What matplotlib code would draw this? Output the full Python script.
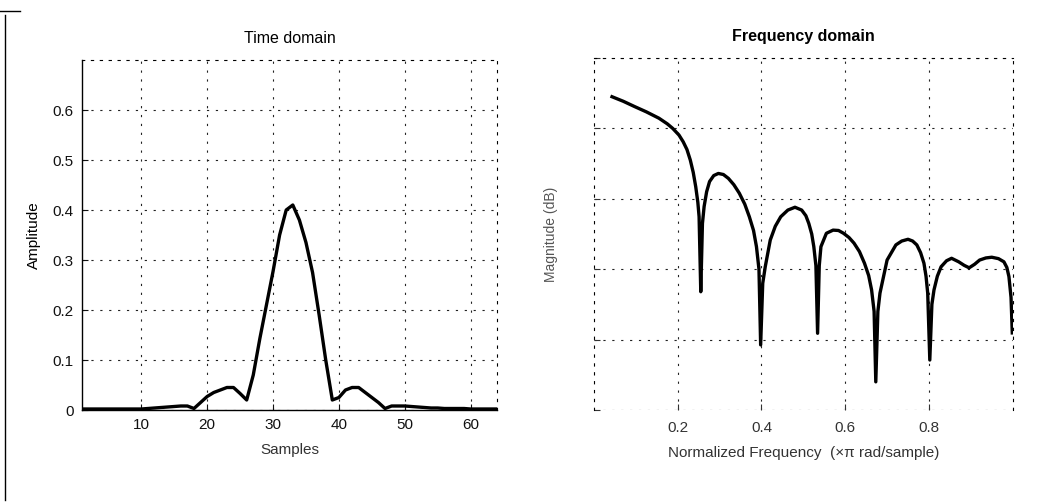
import matplotlib
matplotlib.use("Agg")
import matplotlib.pyplot as plt
from matplotlib.lines import Line2D
import numpy as np

plt.rcParams['font.family'] = ['Liberation Sans', 'DejaVu Sans']

# ---- Time domain data (sample index 1..64) ----
samples = list(range(1, 65))
amplitude = [0.002, 0.002, 0.002, 0.002, 0.002, 0.002, 0.002, 0.002, 0.002, 0.002,
             0.003, 0.004, 0.005, 0.006, 0.007, 0.008, 0.008, 0.003, 0.015, 0.027,
             0.035, 0.040, 0.045, 0.045, 0.033, 0.020, 0.070, 0.143, 0.210, 0.277,
             0.350, 0.400, 0.410, 0.380, 0.335, 0.275, 0.190, 0.100, 0.020, 0.025,
             0.040, 0.045, 0.045, 0.035, 0.025, 0.015, 0.003, 0.008, 0.008, 0.008,
             0.007, 0.006, 0.005, 0.004, 0.004, 0.003, 0.003, 0.003, 0.003, 0.002,
             0.002, 0.002, 0.002, 0.002]
time_xticks = [10, 20, 30, 40, 50, 60]
time_yticks = [0, 0.1, 0.2, 0.3, 0.4, 0.5, 0.6]
time_yticklabels = ['0', '0.1', '0.2', '0.3', '0.4', '0.5', '0.6']

# ---- Frequency domain data ----
freq = [0.043, 0.070, 0.097, 0.125, 0.155, 0.175, 0.188, 0.203, 0.213, 0.222,
        0.230, 0.237, 0.243, 0.248, 0.251, 0.255, 0.259, 0.263, 0.269, 0.276,
        0.286, 0.297, 0.309, 0.321, 0.334, 0.347, 0.360, 0.371, 0.381, 0.388,
        0.394, 0.398, 0.403, 0.409, 0.421, 0.433, 0.446, 0.463, 0.480, 0.496,
        0.506, 0.513, 0.520, 0.525, 0.530, 0.534, 0.538, 0.542, 0.555, 0.571,
        0.584, 0.596, 0.609, 0.621, 0.634, 0.646, 0.656, 0.663, 0.669, 0.673,
        0.678, 0.683, 0.700, 0.721, 0.735, 0.750, 0.761, 0.771, 0.780, 0.788,
        0.793, 0.797, 0.802, 0.807, 0.812, 0.820, 0.829, 0.842, 0.854, 0.871,
        0.884, 0.896, 0.909, 0.921, 0.936, 0.950, 0.966, 0.979, 0.986, 0.991,
        0.996, 0.999]
mag_db = [9.0, 7.7, 6.2, 4.7, 2.9, 1.3, 0.0, -1.9, -3.8, -6.0,
          -9.0, -12.5, -16.6, -21.0, -25.1, -46.4, -27.0, -22.2, -18.0, -15.1,
          -13.4, -12.8, -13.1, -14.2, -16.0, -18.4, -21.5, -25.1, -29.0, -33.6,
          -40.0, -61.5, -44.0, -39.3, -31.7, -27.8, -25.1, -23.2, -22.4, -23.2,
          -24.8, -27.0, -30.0, -33.6, -39.0, -58.2, -39.0, -33.6, -29.8, -28.9,
          -29.0, -29.8, -31.0, -32.6, -35.0, -38.3, -41.8, -45.9, -52.0, -72.0,
          -52.0, -46.8, -37.4, -33.1, -32.0, -31.5, -32.0, -33.1, -35.3, -38.3,
          -42.0, -46.8, -65.8, -50.0, -45.9, -42.0, -39.3, -37.6, -36.9, -37.9,
          -38.9, -39.6, -38.6, -37.4, -36.8, -36.6, -37.0, -37.9, -39.5, -42.1,
          -48.0, -58.1]
freq_xticks = [0.2, 0.4, 0.6, 0.8]
freq_xticklabels = ['0.2', '0.4', '0.6', '0.8']
freq_yticks = [-80, -60, -40, -20, 0, 20]

W, H = 1064, 503
fig = plt.figure(figsize=(W / 100, H / 100), dpi=100)

def ax_rect(x0, y0, x1, y1):
    return [x0 / W, 1 - y1 / H, (x1 - x0) / W, (y1 - y0) / H]

grid_kw = dict(color='#222222', linestyle=(0, (2, 6)), linewidth=0.8)

# ---- Left: Time domain ----
ax1 = fig.add_axes(ax_rect(82, 60, 497, 410))
ax1.plot(samples, amplitude, color='black', linewidth=2.4)
ax1.set_xlim(1, 64)
ax1.set_ylim(0, 0.7)
ax1.set_xticks(time_xticks)
ax1.set_yticks(time_yticks)
ax1.set_yticklabels(time_yticklabels)
ax1.grid(True, **grid_kw)
ax1.set_title('Time domain', fontsize=11.5, pad=12)
ax1.set_xlabel('Samples', fontsize=11, labelpad=8, color='#333333')
ax1.set_ylabel('Amplitude', fontsize=11, labelpad=8)
ax1.tick_params(direction='in', length=4, labelsize=11, pad=6, colors='#111111')
for side in ['top', 'right']:
    ax1.spines[side].set_linestyle((0, (2, 6)))
    ax1.spines[side].set_linewidth(0.8)
ax1.spines['left'].set_linewidth(1.0)
ax1.spines['bottom'].set_linewidth(1.0)

# ---- Right: Frequency domain ----
ax2 = fig.add_axes(ax_rect(594, 58, 1012.7, 410))
ax2.plot(freq, mag_db, color='black', linewidth=2.4)
ax2.set_xlim(0, 1)
ax2.set_ylim(-80, 20)
ax2.set_xticks(freq_xticks)
ax2.set_xticklabels(freq_xticklabels)
ax2.set_yticks(freq_yticks)
ax2.set_yticklabels([''] * len(freq_yticks))
ax2.grid(True, **grid_kw)
ax2.set_title('Frequency domain', fontsize=11.5, pad=12, fontweight='bold')
ax2.set_xlabel('Normalized Frequency  (\u00d7\u03c0 rad/sample)', fontsize=11,
               labelpad=8, color='#333333')
ax2.set_ylabel('Magnitude (dB)', fontsize=10, labelpad=18, color='#555555')
ax2.tick_params(direction='in', length=4, labelsize=11, pad=8, colors='#333333')
for side in ['top', 'right', 'left', 'bottom']:
    ax2.spines[side].set_linestyle((0, (2, 6)))
    ax2.spines[side].set_linewidth(0.8)
ax2.spines['bottom'].set_visible(False)

# window border line at far left
fig.add_artist(Line2D([5 / W, 5 / W], [1 - 15 / H, 1 - 500 / H], color='black',
                      linewidth=1.0, transform=fig.transFigure))
fig.add_artist(Line2D([0, 20 / W], [1 - 11 / H, 1 - 11 / H], color='black',
                      linewidth=1.0, transform=fig.transFigure))

fig.savefig('out.png', dpi=100)
